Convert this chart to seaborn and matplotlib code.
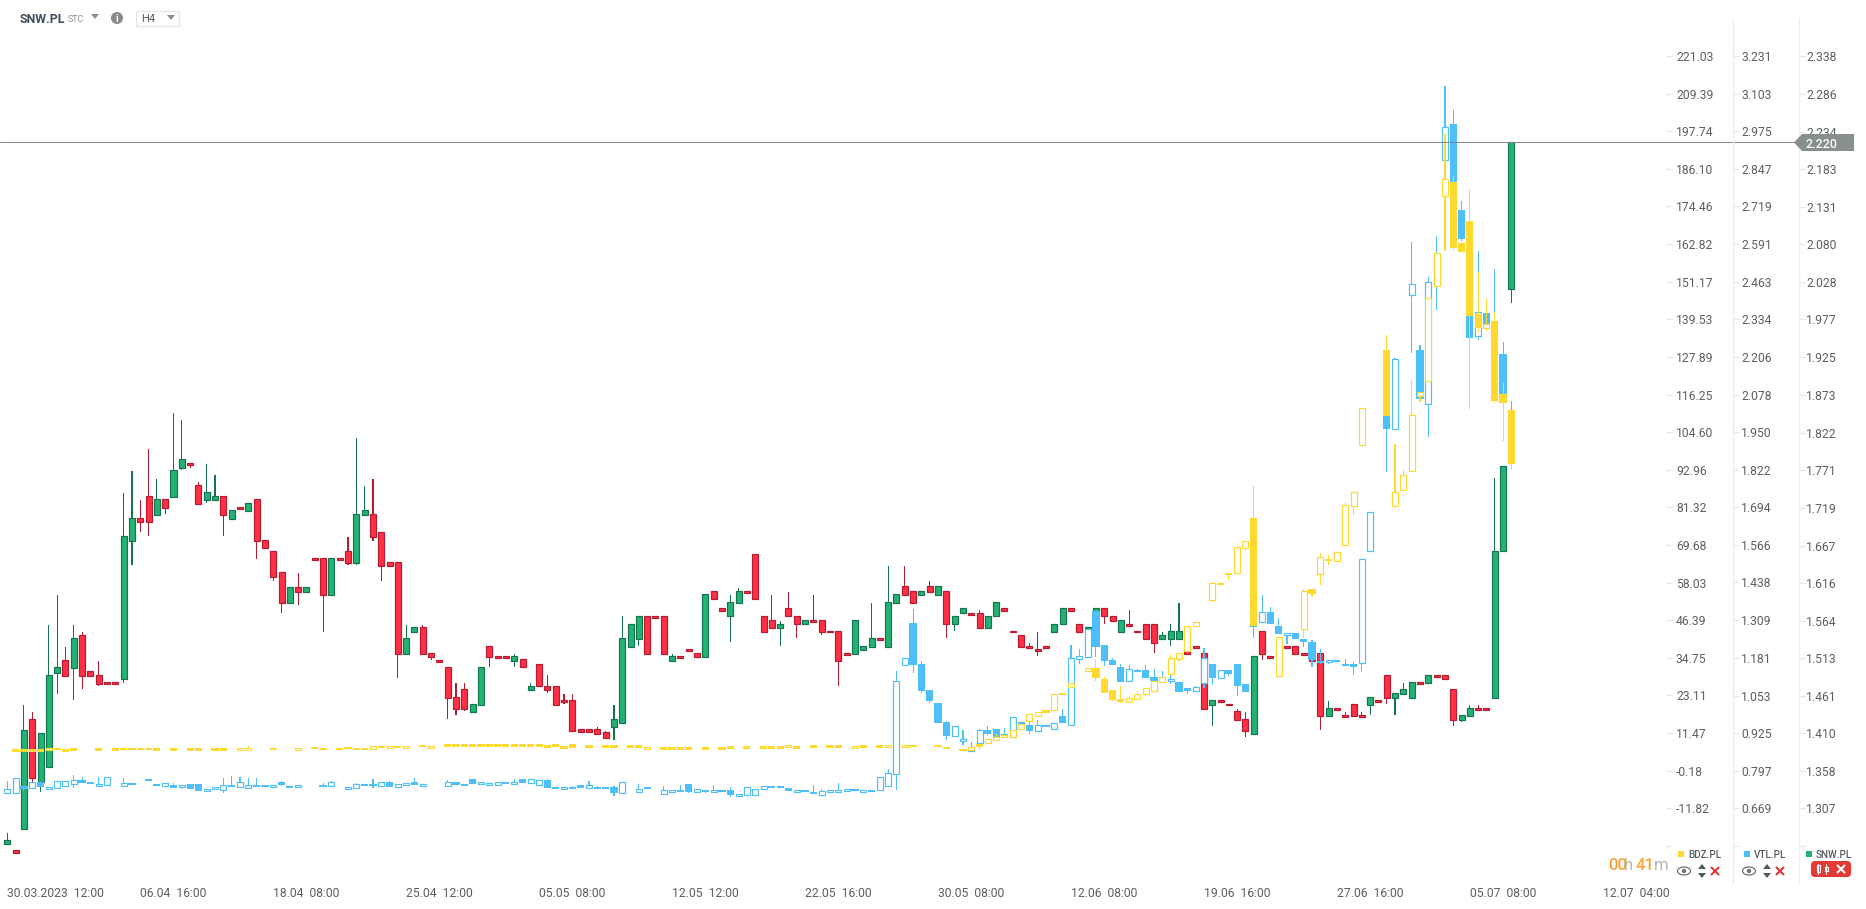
import seaborn as sns
import matplotlib.pyplot as plt
import matplotlib.transforms as mtrans
from matplotlib.patches import Polygon, Rectangle, Circle, Ellipse, FancyBboxPatch
import pandas as pd
import numpy as np

na = None

# --- price scales, top to bottom
bdz_ticks = [221.03, 209.39, 197.74, 186.10, 174.46, 162.82, 151.17, 139.53, 127.89, 116.25, 104.60,
             92.96, 81.32, 69.68, 58.03, 46.39, 34.75, 23.11, 11.47, -0.18, -11.82]
vtl_ticks = [3.231, 3.103, 2.975, 2.847, 2.719, 2.591, 2.463, 2.334, 2.206, 2.078, 1.950,
             1.822, 1.694, 1.566, 1.438, 1.309, 1.181, 1.053, 0.925, 0.797, 0.669]
snw_ticks = [2.338, 2.286, 2.234, 2.183, 2.131, 2.080, 2.028, 1.977, 1.925, 1.873, 1.822,
             1.771, 1.719, 1.667, 1.616, 1.564, 1.513, 1.461, 1.410, 1.358, 1.307]
date_labels = ['30.03.2023  12:00', '06.04  16:00', '18.04  08:00', '25.04  12:00', '05.05  08:00',
               '12.05  12:00', '22.05  16:00', '30.05  08:00', '12.06  08:00', '19.06  16:00',
               '27.06  16:00', '05.07  08:00', '12.07  04:00']
last_price = 2.220

# --- SNW.PL, ten candles per row
snw_open = [1.258, 1.250, 1.278, 1.429, 1.343, 1.363, 1.493, 1.510, 1.499, 1.544,
            1.495, 1.489, 1.480, 1.480, 1.484, 1.673, 1.705, 1.735, 1.709, 1.731,
            1.733, 1.773, 1.780, 1.750, 1.729, 1.729, 1.735, 1.703, 1.720, 1.714,
            1.731, 1.675, 1.659, 1.631, 1.588, 1.610, 1.603, 1.650, 1.650, 1.599,
            1.650, 1.659, 1.643, 1.709, 1.710, 1.686, 1.644, 1.644, 1.518, 1.548,
            1.555, 1.520, 1.510, 1.500, 1.460, 1.471, 1.439, 1.449, 1.530, 1.516,
            1.516, 1.509, 1.511, 1.469, 1.505, 1.475, 1.475, 1.456, 1.456, 1.415,
            1.415, 1.415, 1.411, 1.419, 1.424, 1.528, 1.539, 1.571, 1.571, 1.571,
            1.509, 1.516, 1.526, 1.520, 1.515, 1.605, 1.581, 1.570, 1.589, 1.605,
            1.656, 1.571, 1.565, 1.554, 1.581, 1.571, 1.559, 1.565, 1.565, 1.550,
            1.550, 1.520, 1.519, 1.524, 1.528, 1.541, 1.528, 1.589, 1.611, 1.605,
            1.600, 1.611, 1.600, 1.605, 1.559, 1.574, 1.575, 1.575, 1.554, 1.570,
            1.581, 1.550, 1.545, 1.530, 1.526, 1.530, 1.549, 1.559, 1.581, 1.560,
            1.553, 1.574, 1.581, 1.571, 1.549, 1.560, 1.550, 1.560, 1.560, 1.539,
            1.539, 1.539, 1.526, 1.530, 1.520, 1.449, 1.456, 1.450, 1.441, 1.430,
            1.409, 1.550, 1.516, na, 1.530, 1.530, 1.520, 1.511, 1.520, 1.434,
            1.445, 1.435, 1.450, 1.435, 1.449, 1.456, 1.490, 1.458, 1.464, 1.458,
            1.480, 1.479, 1.490, 1.490, 1.471, 1.428, 1.434, 1.445, 1.445, 1.458,
            1.659, 2.019]
snw_close = [1.264, 1.246, 1.414, 1.348, 1.410, 1.489, 1.500, 1.488, 1.540, 1.488,
             1.488, 1.478, 1.477, 1.477, 1.680, 1.705, 1.699, 1.699, 1.731, 1.718,
             1.770, 1.786, 1.777, 1.724, 1.740, 1.735, 1.709, 1.716, 1.717, 1.725,
             1.673, 1.664, 1.624, 1.588, 1.610, 1.603, 1.610, 1.647, 1.599, 1.650,
             1.647, 1.643, 1.710, 1.716, 1.679, 1.639, 1.639, 1.518, 1.540, 1.555,
             1.518, 1.514, 1.507, 1.458, 1.443, 1.443, 1.450, 1.501, 1.515, 1.513,
             1.513, 1.516, 1.500, 1.475, 1.474, 1.469, 1.449, 1.453, 1.413, 1.412,
             1.412, 1.409, 1.404, 1.430, 1.541, 1.560, 1.571, 1.519, 1.568, 1.519,
             1.516, 1.513, 1.523, 1.515, 1.601, 1.594, 1.578, 1.590, 1.605, 1.602,
             1.594, 1.549, 1.554, 1.560, 1.570, 1.559, 1.565, 1.563, 1.549, 1.548,
             1.509, 1.517, 1.565, 1.530, 1.541, 1.538, 1.590, 1.601, 1.600, 1.589,
             1.605, 1.604, 1.611, 1.559, 1.571, 1.581, 1.572, 1.554, 1.571, 1.590,
             1.578, 1.548, 1.528, 1.527, 1.523, 1.527, 1.560, 1.581, 1.578, 1.549,
             1.556, 1.581, 1.570, 1.564, 1.565, 1.557, 1.548, 1.539, 1.534, 1.545,
             1.550, 1.550, 1.518, 1.527, 1.443, 1.456, 1.453, 1.448, 1.428, 1.413,
             1.516, 1.518, 1.513, na, 1.527, 1.519, 1.517, 1.509, 1.434, 1.445,
             1.442, 1.432, 1.434, 1.432, 1.460, 1.453, 1.458, 1.465, 1.471, 1.480,
             1.478, 1.490, 1.487, 1.484, 1.428, 1.435, 1.445, 1.442, 1.442, 1.660,
             1.776, 2.220]
snw_high = {0: 1.273, 2: 1.448, 3: 1.439, 5: 1.558, 6: 1.599, 7: 1.528, 8: 1.558, 9: 1.548, 11: 1.509,
            14: 1.739, 15: 1.769, 16: 1.729, 17: 1.799, 18: 1.758, 20: 1.849, 21: 1.839, 23: 1.754,
            24: 1.779, 25: 1.764, 35: 1.629, 41: 1.679, 42: 1.814, 43: 1.749, 44: 1.758, 48: 1.558,
            50: 1.558, 54: 1.479, 55: 1.479, 61: 1.519, 63: 1.479, 65: 1.489, 67: 1.464, 68: 1.464,
            71: 1.419, 72: 1.413, 73: 1.449, 74: 1.570, 80: 1.519, 87: 1.600, 88: 1.609, 92: 1.600,
            93: 1.564, 94: 1.604, 97: 1.600, 104: 1.589, 106: 1.639, 108: 1.639, 111: 1.619,
            117: 1.579, 123: 1.534, 124: 1.549, 135: 1.579, 139: 1.549, 140: 1.559, 141: 1.589,
            148: 1.443, 149: 1.439, 159: 1.454, 161: 1.439, 163: 1.439, 168: 1.479, 176: 1.449,
            177: 1.449, 179: 1.759}
snw_low = {3: 1.343, 4: 1.329, 6: 1.464, 8: 1.455, 9: 1.470, 11: 1.474, 14: 1.479, 15: 1.640, 16: 1.685,
           17: 1.680, 19: 1.710, 21: 1.770, 22: 1.774, 24: 1.725, 26: 1.680, 30: 1.649, 32: 1.619,
           33: 1.574, 35: 1.585, 38: 1.549, 41: 1.640, 42: 1.640, 44: 1.674, 45: 1.619, 47: 1.485,
           51: 1.510, 53: 1.429, 54: 1.435, 55: 1.441, 58: 1.501, 61: 1.501, 65: 1.465, 67: 1.450,
           68: 1.411, 73: 1.401, 76: 1.529, 87: 1.535, 93: 1.529, 95: 1.540, 98: 1.544, 100: 1.474,
           113: 1.540, 114: 1.550, 124: 1.516, 132: 1.560, 138: 1.520, 140: 1.529, 145: 1.420,
           149: 1.405, 151: 1.510, 158: 1.414, 164: 1.435, 166: 1.450, 167: 1.435, 174: 1.420,
           175: 1.425, 181: 2.000}

# --- VTL.PL
vtl_open = [.721, .721, .746, .738, .759, .736, .739, .746, .753, .766,
            .759, .746, .749, na, .746, .756, na, .770, .753, .746,
            .749, .742, .753, .753, .729, .736, .732, .749, .742, .739,
            .749, .749, .742, .759, .746, .742, na, na, .749, .746,
            na, .736, .739, .753, .753, .746, .759, .742, .749, .759,
            .746, na, na, .746, .759, .752, .769, .752, .749, .749,
            .759, .752, .769, .756, .749, .766, .742, .735, .742, .749,
            .739, .742, .742, .742, .722, na, .725, .742, na, .718,
            .725, .732, .752, .725, .732, .725, .732, .732, .711, .715,
            .715, .735, .746, .746, .739, .725, .732, .725, .715, .725,
            .725, .729, .735, .725, .732, .732, .746, .787, 1.158, 1.301,
            1.161, 1.073, 1.028, .964, .916, .899, .865, .892, .936, .940,
            .923, .913, .964, .954, .933, .954, .940, .984, .954, 1.178,
            1.185, 1.342, 1.226, 1.175, 1.151, 1.103, 1.141, 1.141, 1.117, 1.116,
            1.103, 1.098, 1.079, 1.069, 1.097, 1.161, 1.114, 1.141, 1.161, 1.093,
            1.297, 1.304, 1.338, 1.291, 1.260, 1.267, 1.246, 1.236, 1.171, 1.168,
            1.175, 1.161, 1.161, 1.165, 1.546, na, 2.012, 1.960, na, 2.417,
            2.231, 2.046, 2.455, 2.877, 3.000, 2.707, 2.602, 2.278, 2.356, 2.319,
            2.217, 2.024]
vtl_close = [.736, .773, .736, .759, .741, .742, .763, .763, .766, .755,
             .752, .753, .776, na, .756, .748, na, .762, .745, .756,
             .738, .749, .734, .728, .736, .742, .749, .741, .759, .749,
             .741, .741, .749, .748, .738, .749, na, na, .741, .759,
             na, .742, .753, .745, .745, .759, .741, .753, .756, .748,
             .753, na, na, .759, .748, .744, .751, .759, .756, .759,
             .751, .759, .754, .769, .766, .738, .734, .742, .734, .738,
             .749, .734, .734, .721, .759, na, .735, .734, na, .732,
             .732, .724, .724, .735, .724, .732, .724, .714, .718, .742,
             .735, .746, .738, .738, .727, .732, .724, .717, .729, .732,
             .732, .735, .727, .732, .724, .776, .790, 1.103, 1.182, 1.157,
             1.068, 1.034, .959, .915, .950, .906, .871, .936, .922, .913,
             .914, .981, .956, .932, .954, .946, .960, .959, 1.182, 1.188,
             1.280, 1.218, 1.170, 1.157, 1.099, 1.144, 1.133, 1.112, 1.104, 1.104,
             1.110, 1.064, 1.068, 1.083, 1.182, 1.112, 1.141, 1.126, 1.085, 1.064,
             1.286, 1.338, 1.296, 1.262, 1.267, 1.245, 1.235, 1.175, 1.163, 1.175,
             1.167, 1.153, 1.150, 1.519, 1.679, na, 1.960, 2.199, na, 2.455,
             2.062, 2.462, 2.557, 2.989, 2.790, 2.607, 2.270, 2.359, 2.302, 2.160,
             2.048, 1.933]
vtl_high = {0: .763, 8: .783, 9: .776, 11: .776, 14: .773, 20: .756, 26: .773, 27: .780, 28: .776, 29: .773,
            30: .773, 33: .763, 38: .756, 39: .763, 42: .756, 44: .770, 46: .763, 49: .773, 53: .766,
            61: .769, 65: .769, 68: .746, 70: .763, 71: .746, 73: .746, 76: .752, 79: .746, 81: .749,
            85: .749, 87: .742, 97: .749, 98: .735, 100: .756, 106: .803, 107: 1.137, 109: 1.349,
            110: 1.171, 113: .967, 115: .936, 116: .896, 117: .940, 118: .950, 120: .943, 123: .964,
            124: .971, 127: 1.008, 128: 1.226, 129: 1.212, 133: 1.182, 134: 1.161, 135: 1.158,
            136: 1.144, 137: 1.158, 138: 1.144, 139: 1.137, 140: 1.125, 141: 1.100, 143: 1.086,
            144: 1.216, 151: 1.396, 152: 1.355, 153: 1.318, 157: 1.241, 158: 1.212, 161: 1.178,
            162: 1.168, 167: 2.204, 169: 2.598, 170: 2.247, 171: 2.479, 172: 2.618, 173: 3.129,
            174: 3.047, 175: 2.737, 177: 2.567, 179: 2.506, 180: 2.257, 181: 2.056}
vtl_low = {0: .717, 2: .728, 3: .734, 8: .738, 21: .734, 26: .721, 33: .745, 39: .742, 41: .732, 44: .739,
           45: .742, 73: .710, 76: .721, 82: .721, 84: .721, 87: .707, 107: .730, 109: 1.129, 110: 1.061,
           111: 1.027, 113: .901, 115: .884, 116: .860, 117: .868, 118: .918, 123: .922, 129: 1.160,
           131: 1.184, 132: 1.154, 140: 1.092, 142: 1.059, 144: 1.079, 145: 1.090, 147: 1.119,
           148: 1.053, 150: 1.248, 154: 1.229, 156: 1.218, 157: 1.150, 158: 1.161, 159: 1.160,
           162: 1.123, 163: 1.136, 166: 1.814, 169: 2.219, 171: 1.933, 172: 2.367, 175: 2.602, 177: 2.263}

# --- BDZ.PL
bdz_open = [na, 6.44, 6.44, 6.44, 6.44, 6.23, 6.95, 6.44, 6.75, na,
            na, 6.75, na, 6.75, 6.95, 6.95, 6.95, 6.95, 6.75, na,
            6.75, na, 6.75, 6.75, na, 6.75, 6.75, na, 6.33, 6.33,
            na, na, 6.95, na, na, 6.33, na, 7.26, 6.95, na,
            6.95, 7.26, 6.95, 6.95, 6.64, 7.57, 6.95, 7.57, 6.95, na,
            7.88, 6.95, na, 8.00, 8.00, 8.00, 8.00, 8.00, 8.00, 8.00,
            8.00, 8.00, 8.00, 8.00, 8.00, 7.69, 8.00, 7.38, 8.00, na,
            7.69, na, 7.69, 7.69, na, 7.69, 7.69, 6.66, na, 7.07,
            7.07, 7.07, 7.07, na, 7.07, na, 7.07, 7.38, na, 7.38,
            na, 7.38, 7.38, 7.38, 7.27, 7.38, na, 7.69, na, 7.69,
            7.69, na, 6.97, 7.69, na, 7.69, 7.27, na, 7.26, 7.88,
            na, na, 7.88, 7.26, na, 6.64, 6.33, 8.19, 8.50, 9.43,
            10.35, 10.35, 12.83, 15.30, 16.85, 18.50, 18.71, 23.97, 25.82, na,
            30.77, 31.70, 28.30, 24.89, 22.11, 21.18, 22.11, 23.66, 24.58, 27.37,
            29.85, 34.49, 36.96, 44.70, na, 52.74, 58.00, 61.09, 61.09, 68.83,
            78.11, na, na, 29.23, na, na, 43.77, 56.14, 60.78, 65.42,
            64.81, 69.66, 81.83, 100.58, na, na, 130.18, 81.72, 86.78, 92.64,
            115.85, 120.59, 149.88, 177.72, 182.16, 163.29, 170.09, 141.32, 136.88, 139.15,
            116.26, 111.31]
bdz_close = [na, 5.61, 5.61, 5.61, 5.61, 6.85, 6.23, 5.72, 5.92, na,
             na, 5.92, na, 5.92, 6.23, 6.23, 6.23, 6.23, 5.92, na,
             5.92, na, 5.92, 5.92, na, 5.92, 5.92, na, 6.95, 6.95,
             na, na, 6.23, na, na, 6.95, na, 6.54, 6.23, na,
             6.23, 6.54, 6.23, 6.23, 7.57, 6.85, 7.57, 6.85, 7.57, na,
             7.16, 7.57, na, 7.07, 7.07, 7.07, 7.07, 7.07, 7.07, 7.07,
             7.07, 7.07, 7.07, 7.07, 7.07, 6.76, 7.07, 6.45, 6.76, na,
             6.76, na, 6.76, 6.76, na, 6.76, 6.76, 7.27, na, 6.14,
             6.14, 6.14, 6.14, na, 6.14, na, 6.14, 6.45, na, 6.45,
             na, 6.45, 6.45, 6.45, 7.89, 6.45, na, 6.76, na, 6.76,
             6.76, na, 7.58, 6.76, na, 6.76, 7.89, na, 7.88, 7.16,
             na, na, 7.16, 6.54, na, 5.92, 7.26, 7.16, 9.73, 10.35,
             10.97, 12.52, 14.37, 17.47, 18.09, 17.78, 23.66, 23.25, 27.06, na,
             31.70, 28.50, 23.86, 21.70, 21.08, 22.42, 23.66, 25.51, 27.68, 28.92,
             34.80, 36.34, 44.70, 45.93, na, 58.00, 57.28, 60.37, 69.14, 70.99,
             44.70, na, na, 41.29, na, na, 55.50, 54.49, 66.04, 64.70,
             67.60, 82.14, 86.16, 112.13, na, na, 109.55, 86.16, 91.42, 109.97,
             117.08, 146.17, 160.09, 182.98, 161.53, 160.50, 140.70, 136.88, 138.12, 114.40,
             113.58, 94.70]
bdz_high = {29: 7.36, 32: 7.36, 119: 11.28, 131: 34.49, 132: 28.71, 134: 25.93, 135: 22.83, 136: 24.58,
            140: 35.72, 150: 87.80, 156: 56.04, 158: 67.28, 159: 66.66, 161: 82.76, 166: 134.72,
            167: 100.79, 168: 92.74, 169: 120.80, 173: 196.91, 174: 183.91, 176: 180.00, 177: 154.11,
            178: 145.86, 179: 141.83, 180: 119.87}
bdz_low = {117: 6.33, 123: 14.89, 131: 27.68, 133: 21.39, 134: 20.77, 137: 22.93, 139: 26.96, 141: 33.87,
           143: 44.28, 147: 58.72, 149: 67.80, 156: 40.98, 157: 53.56, 158: 57.28, 159: 63.46, 160: 64.40,
           162: 78.94, 163: 99.96, 170: 113.89, 171: 120.07, 173: 160.81, 174: 160.81, 176: 111.92,
           177: 135.65, 178: 136.06, 179: 113.78, 180: 101.72, 181: 92.74}

SLOT_PX = 8.31
TICK_TOP, TICK_BOTTOM = 56.0, 808.3


def make_frame(opens, closes, highs, lows):
    df = pd.DataFrame({'open': np.array(opens, dtype=float), 'close': np.array(closes, dtype=float)})
    df['slot'] = df.index
    df = df.dropna()
    df['top'] = df[['open', 'close']].max(axis=1)
    df['bot'] = df[['open', 'close']].min(axis=1)
    df['high'] = df['slot'].map(highs).fillna(df['top'])
    df['low'] = df['slot'].map(lows).fillna(df['bot'])
    df['up'] = df['close'] >= df['open']
    return df


def bars(ax, df, base, size, px_width, **kws):
    # seaborn scales width by the smallest gap between x values
    gap = np.diff(df['slot']).min() if len(df) > 1 else 1
    tmp = pd.DataFrame({'slot': df['slot'].values, 'size': size.values})
    sns.barplot(data=tmp, x='slot', y='size', bottom=base.values, native_scale=True,
                width=px_width / SLOT_PX / gap, errorbar=None, saturation=1, ax=ax, **kws)


def wicks(ax, df, color):
    sub = df[(df['high'] > df['top']) | (df['low'] < df['bot'])]
    if len(sub):
        bars(ax, sub, sub['low'], sub['high'] - sub['low'], 1.15, color=color, linewidth=0)


def body(ax, df, px_width, color, edge=None):
    if edge is None:
        bars(ax, df, df['bot'], df['top'] - df['bot'], px_width, color=color, linewidth=0)
    else:
        bars(ax, df, df['bot'], df['top'] - df['bot'], px_width, color=color, edgecolor=edge, linewidth=0.85)


def draw_hollow_series(ax, df, color):
    # hollow = up, filled = down
    wicks(ax, df, color)
    body(ax, df[~df['up']], 7.2, color)
    body(ax, df[df['up']], 6.0, 'white', color)


def scale_limits(ticks):
    slope = (ticks[0] - ticks[-1]) / (TICK_BOTTOM - TICK_TOP)
    return ticks[-1] - (909 - TICK_BOTTOM) * slope, ticks[0] + TICK_TOP * slope


sns.set_theme(style='white')
plt.rcParams['font.family'] = ['Roboto', 'DejaVu Sans']

GREEN, GREEN_DK = '#24b273', '#13744f'
RED, RED_DK = '#fe3045', '#b61c31'
BLUE, YELLOW = '#4dbffa', '#ffd92e'
GREY_TXT = '#5c5f62'

fig = plt.figure(figsize=(18.66, 9.09), dpi=100, facecolor='white')
ax_snw = fig.add_axes([0, 0, 1, 1])
ax_vtl = ax_snw.twinx()
ax_bdz = ax_snw.twinx()

snw = make_frame(snw_open, snw_close, snw_high, snw_low)
wicks(ax_snw, snw[snw['up']], GREEN_DK)
wicks(ax_snw, snw[~snw['up']], RED_DK)
body(ax_snw, snw[snw['up']], 6.0, GREEN, GREEN_DK)
body(ax_snw, snw[~snw['up']], 6.0, RED, RED_DK)

draw_hollow_series(ax_vtl, make_frame(vtl_open, vtl_close, vtl_high, vtl_low), BLUE)
draw_hollow_series(ax_bdz, make_frame(bdz_open, bdz_close, bdz_high, bdz_low), YELLOW)

x_limits = (-7.3 / SLOT_PX, (1866 - 7.3) / SLOT_PX)
for a, t in [(ax_snw, snw_ticks), (ax_vtl, vtl_ticks), (ax_bdz, bdz_ticks)]:
    a.set_xlim(x_limits)
    a.set_ylim(scale_limits(t))
    a.set_axis_off()

# overlay in pixels for the platform chrome
ui = fig.add_axes([0, 0, 1, 1], zorder=5)
ui.set_xlim(0, 1866)
ui.set_ylim(909, 0)
ui.set_axis_off()

# last price line and tag
line_tr = mtrans.blended_transform_factory(ui.transData, ax_snw.transData)
ui.plot([0, 1796], [last_price, last_price], color='#7f8c8d', lw=0.75, transform=line_tr)

# three price columns
for ticks, fmt, tick_x, label_x, ax_ref in [(bdz_ticks, '{:.2f}', 1666, 1676, ax_bdz),
                                            (vtl_ticks, '{:.3f}', 1733, 1741, ax_vtl),
                                            (snw_ticks, '{:.3f}', 1799, 1806, ax_snw)]:
    tr = mtrans.blended_transform_factory(ui.transData, ax_ref.transData)
    step = ticks[-1] - (ticks[0] - ticks[-1]) / 20
    for v in ticks:
        ui.plot([tick_x, tick_x + 6], [v, v], color='#e6e6e6', lw=0.8, transform=tr)
        ui.text(label_x, v, fmt.format(v), transform=tr, fontsize=8.7, color=GREY_TXT,
                ha='left', va='center_baseline')
    ui.plot([tick_x, tick_x + 6], [step, step], color='#e6e6e6', lw=0.8, transform=tr)
for vx in [1733, 1799]:
    ui.plot([vx, vx], [18, 883], color='#eeeeee', lw=0.9)

tag_y = 142.5
ui.add_patch(Polygon([(1794, tag_y), (1802, 134), (1854, 134), (1854, 151), (1802, 151)],
                     closed=True, fc='#87908f', ec='none', zorder=6))
ui.text(1806, tag_y, f'{last_price:.3f}', color='white', fontsize=8.9, fontweight='medium',
        ha='left', va='center_baseline', zorder=7)

# date axis, one label every 16 candles
date_tr = mtrans.blended_transform_factory(ax_snw.transData, ui.transData)
for k, lab in enumerate(date_labels):
    ui.text(16 * k, 892, lab, transform=date_tr, fontsize=8.7, color=GREY_TXT, ha='left', va='center_baseline')

# header
ui.text(20, 18, 'SNW.PL', fontsize=8.9, fontweight='bold', color='#3f4f5b', ha='left', va='center_baseline')
ui.text(67.5, 19, 'STC', fontsize=6.4, color='#8a8f94', ha='left', va='center_baseline')
ui.add_patch(Polygon([(91, 14), (99, 14), (95, 19)], closed=True, fc='#8a8f94', ec='none'))
ui.add_patch(Circle((117, 18), 6, fc='#8a8a8a', ec='none'))
ui.text(117, 18, 'i', fontsize=7, fontweight='bold', color='white', ha='center', va='center_baseline')
ui.add_patch(Rectangle((135.5, 10.5), 43, 15, fc='white', ec='#e6e6e6', lw=0.9))
ui.text(141, 18, 'H4', fontsize=8, color='#555a5f', ha='left', va='center_baseline')
ui.add_patch(Polygon([(167, 15), (175, 15), (171, 20)], closed=True, fc='#8a8f94', ec='none'))

# countdown
ui.text(1608, 864, '00', fontsize=12, fontweight='medium', color='#f7a436', ha='left', va='center_baseline')
ui.text(1624, 864, 'h', fontsize=12, color='#b5b5b5', ha='left', va='center_baseline')
ui.text(1636, 864, '41', fontsize=12, fontweight='medium', color='#f7a436', ha='left', va='center_baseline')
ui.text(1654, 864, 'm', fontsize=12, color='#b5b5b5', ha='left', va='center_baseline')

# legend and per series buttons
for sq_x, name, col in [(1678, 'BDZ.PL', YELLOW), (1744, 'VTL.PL', BLUE), (1806, 'SNW.PL', GREEN)]:
    ui.add_patch(Rectangle((sq_x, 851), 6, 6, fc=col, ec='none'))
    ui.text(sq_x + 10, 854, name, fontsize=7.1, fontweight='medium', color='#555a5f', ha='left', va='center_baseline')
for eye_x, arrow_x, cross_x in [(1684, 1702, 1715), (1749, 1767, 1780)]:
    ui.add_patch(Ellipse((eye_x, 871), 13, 8, fc='white', ec='#6b7378', lw=0.9))
    ui.add_patch(Circle((eye_x, 871), 2.2, fc='#6b7378', ec='none'))
    ui.add_patch(Polygon([(arrow_x - 4, 869), (arrow_x + 4, 869), (arrow_x, 864)], closed=True, fc='#4f5a61', ec='none'))
    ui.add_patch(Polygon([(arrow_x - 4, 873), (arrow_x + 4, 873), (arrow_x, 878)], closed=True, fc='#4f5a61', ec='none'))
    ui.plot([cross_x - 3.5, cross_x + 3.5], [867.5, 874.5], color='#e53935', lw=1.5)
    ui.plot([cross_x - 3.5, cross_x + 3.5], [874.5, 867.5], color='#e53935', lw=1.5)
ui.add_patch(FancyBboxPatch((1813, 863), 36, 12, boxstyle='round,pad=2,rounding_size=4', fc='#e53935', ec='none'))
for cx, h in [(1818, 5), (1826, 3)]:
    ui.plot([cx, cx], [864, 874], color='white', lw=0.8)
    ui.add_patch(Rectangle((cx - 1.5, 869 - h / 1.2), 3, h * 1.4, fc='#e53935', ec='white', lw=0.8))
ui.plot([1837.5, 1844.5], [865.5, 872.5], color='white', lw=1.5)
ui.plot([1837.5, 1844.5], [872.5, 865.5], color='white', lw=1.5)

plt.savefig('out.png', dpi=100)
